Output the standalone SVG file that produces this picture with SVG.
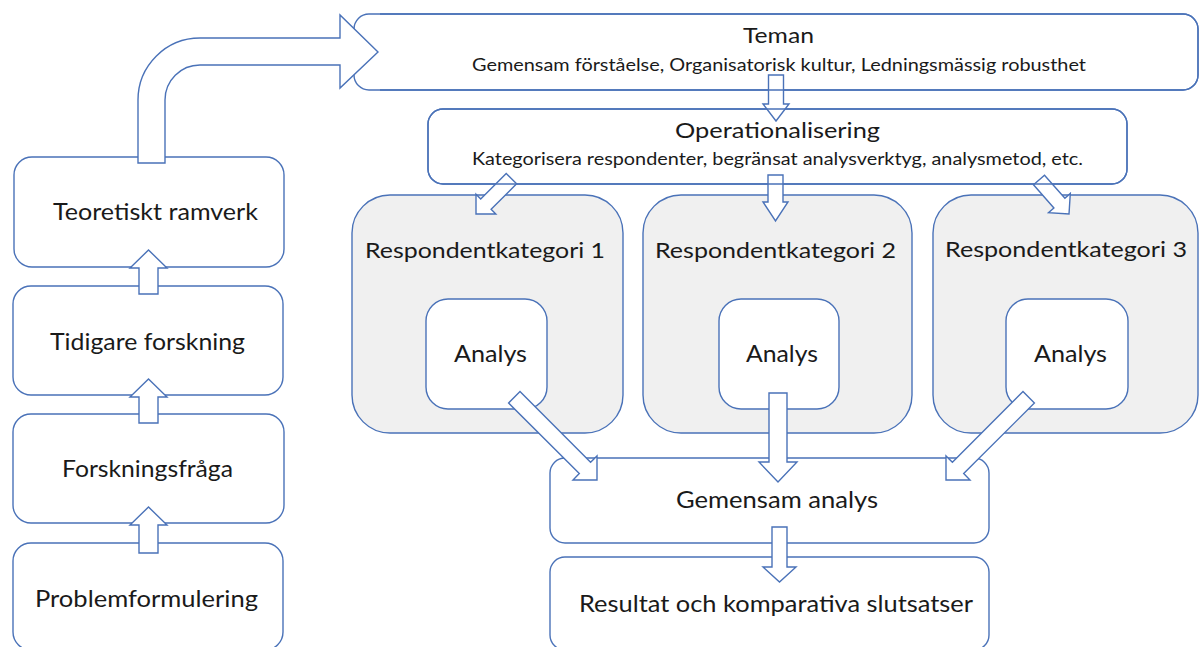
<svg xmlns="http://www.w3.org/2000/svg" xmlns:xlink="http://www.w3.org/1999/xlink" width="1200" height="647" viewBox="0 0 1200 647">
  <style>
    .box { stroke:#4a72b8; stroke-width:1.4; }
    .arrow { fill:#fff; stroke:#4a72b8; stroke-width:1.4; stroke-linejoin:miter; }
    .t { fill:#1a1a1a; font-family:Lato, "Liberation Sans", sans-serif; }
    .h1 { font-size:21px; }
    .sub { font-size:17px; }
    .lbl { font-size:23.5px; }
    .rl { font-size:21px; }
    .an { font-size:23px; }
  </style>
  <defs>
    <clipPath id="clipRight"><rect x="380" y="0" width="820" height="647"/></clipPath>
  </defs>
  <rect width="1200" height="647" fill="#fff"/>

  <g id="teoretiskt" fill="#fff">
    <rect class="box" x="14" y="157" width="270" height="110" rx="18"/>
    <text class="t lbl" x="53" y="220" textLength="205" lengthAdjust="spacingAndGlyphs">Teoretiskt ramverk</text>
  </g>
  <g id="tidigare" fill="#fff">
    <rect class="box" x="13" y="286" width="270" height="109" rx="18"/>
    <text class="t lbl" x="50" y="350" textLength="195" lengthAdjust="spacingAndGlyphs">Tidigare forskning</text>
  </g>
  <g id="forskningsfraga" fill="#fff">
    <rect class="box" x="13" y="414" width="271" height="109" rx="18"/>
    <text class="t lbl" x="62" y="477" textLength="171" lengthAdjust="spacingAndGlyphs">Forskningsfråga</text>
  </g>
  <g id="problemformulering" fill="#fff">
    <rect class="box" x="13" y="543" width="270" height="107" rx="18"/>
    <text class="t lbl" x="35" y="607" textLength="223" lengthAdjust="spacingAndGlyphs">Problemformulering</text>
  </g>

  <g id="teman" fill="#fff">
    <rect id="teman-box" class="box" x="354" y="14" width="844" height="76" rx="15"/>
    <text class="t h1" x="743" y="43" textLength="71" lengthAdjust="spacingAndGlyphs">Teman</text>
    <text class="t sub" x="472" y="71" textLength="614" lengthAdjust="spacingAndGlyphs">Gemensam förståelse, Organisatorisk kultur, Ledningsmässig robusthet</text>
  </g>
  <g id="operationalisering" fill="#fff">
    <rect id="op-box" class="box" x="428" y="109" width="699" height="75" rx="15"/>
    <text class="t h1" x="675" y="138" textLength="205" lengthAdjust="spacingAndGlyphs">Operationalisering</text>
    <text class="t sub" x="472" y="165" textLength="611" lengthAdjust="spacingAndGlyphs">Kategorisera respondenter, begränsat analysverktyg, analysmetod, etc.</text>
  </g>

  <g id="resp1" fill="#f0f0f0">
    <rect class="box" x="352" y="195" width="271" height="238" rx="38"/>
    <text class="t rl" x="365" y="258" textLength="240" lengthAdjust="spacingAndGlyphs">Respondentkategori 1</text>
  </g>
  <g id="resp2" fill="#f0f0f0">
    <rect class="box" x="643" y="195" width="269" height="238" rx="38"/>
    <text class="t rl" x="655" y="258" textLength="241" lengthAdjust="spacingAndGlyphs">Respondentkategori 2</text>
  </g>
  <g id="resp3" fill="#f0f0f0">
    <rect class="box" x="933" y="195" width="265" height="238" rx="38"/>
    <text class="t rl" x="945" y="257" textLength="242" lengthAdjust="spacingAndGlyphs">Respondentkategori 3</text>
  </g>

  <g id="analys1" fill="#fff">
    <rect class="box" x="426" y="299" width="121" height="110" rx="22"/>
    <text class="t an" x="454" y="362" textLength="73" lengthAdjust="spacingAndGlyphs">Analys</text>
  </g>
  <g id="analys2" fill="#fff">
    <rect class="box" x="719" y="299" width="120" height="110" rx="22"/>
    <text class="t an" x="746" y="362" textLength="72" lengthAdjust="spacingAndGlyphs">Analys</text>
  </g>
  <g id="analys3" fill="#fff">
    <rect class="box" x="1006" y="299" width="122" height="110" rx="22"/>
    <text class="t an" x="1034" y="362" textLength="73" lengthAdjust="spacingAndGlyphs">Analys</text>
  </g>

  <g id="gemensam" fill="#fff">
    <rect class="box" x="550" y="458" width="439" height="85" rx="15"/>
    <text class="t an" x="676" y="508" textLength="202" lengthAdjust="spacingAndGlyphs">Gemensam analys</text>
  </g>
  <g id="resultat" fill="#fff">
    <rect class="box" x="550" y="557" width="439" height="93" rx="15"/>
    <text class="t an" x="579" y="612" textLength="394" lengthAdjust="spacingAndGlyphs">Resultat och komparativa slutsatser</text>
  </g>

  <g id="connectors">
    <!-- curved arrow Teoretiskt ramverk -> Teman -->
    <path class="arrow" d="M138,163 L138,100 A62,62 0 0 1 200,38 L340,38 L340,15 L378,52 L340,88 L340,65 L200,65 A35,35 0 0 0 165,100 L165,163 Z"/>
    <!-- left column up arrows -->
    <polygon class="arrow" points="139,294 139,268 130,268 148.5,250 167,268 158,268 158,294"/>
    <polygon class="arrow" points="139,423 139,397 130,397 148.5,379 167,397 158,397 158,423"/>
    <polygon class="arrow" points="139,553 139,525 130,525 148.5,507 167,525 158,525 158,553"/>
    <!-- Teman -> Operationalisering -->
    <polygon class="arrow" points="768.5,75 783.5,75 783.5,104 789,104 776,121 763,104 768.5,104"/>
    <!-- Operationalisering -> Respondentkategori 1,2,3 -->
    <polygon class="arrow" points="506.2,173.4 480.7,198.9 476,194.2 476,214 495.8,214 491.1,209.3 516.6,183.8"/>
    <polygon class="arrow" points="768,175 783,175 783,202 788,202 775.5,221 763,202 768,202"/>
    <polygon class="arrow" points="1044.5,175.2 1064.9,198.3 1070.3,193.5 1069,214 1048.5,212.7 1053.9,208 1033.5,184.8"/>
    <!-- Analys -> Gemensam analys -->
    <polygon class="arrow" points="520,391.6 590.6,462.3 597,456 597,480 573,480 579.3,473.6 508.6,403"/>
    <polygon class="arrow" points="769,393 787,393 787,462 797,462 778,482 759,462 769,462"/>
    <polygon class="arrow" points="1023,391.6 952.4,462.3 946,456 946,480 970,480 963.7,473.6 1034.4,403"/>
    <!-- Gemensam analys -> Resultat -->
    <polygon class="arrow" points="772,527 787,527 787,567 796,567 779.5,582 763,567 772,567"/>
  </g>

  <g id="box-outlines" fill="none">
    <use xlink:href="#teman-box" clip-path="url(#clipRight)"/>
    <use xlink:href="#op-box"/>
  </g>
</svg>
